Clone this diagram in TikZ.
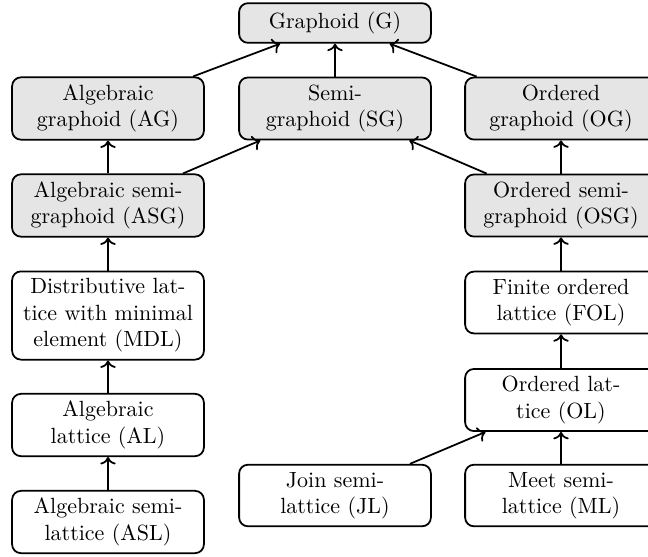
\documentclass[tikz,border=0pt]{standalone}
\usetikzlibrary{arrows.meta}
\begin{document}
\begin{tikzpicture}[x=0.4545pt,y=-0.4545pt,
  box/.style={draw, thick, rounded corners=4pt, text width=80.5pt, align=center, inner sep=3.33pt, minimum height=18pt},
  gbox/.style={box, fill=gray!20},
  wbox/.style={box, fill=white},
  link/.style={thick, ->}]
\useasboundingbox (0,0) rectangle (648,556);
\node[gbox] (G)   at (335,23)    {Graphoid (G)};
\node[gbox] (AG)  at (108,108.5) {Algebraic\\graphoid (AG)};
\node[gbox] (SG)  at (335,108.5) {Semi-\\graphoid (SG)};
\node[gbox] (OG)  at (561,108.5) {Ordered\\graphoid (OG)};
\node[gbox] (ASG) at (108,205.5) {Algebraic semi-\\graphoid (ASG)};
\node[gbox] (OSG) at (561,205.5) {Ordered semi-\\graphoid (OSG)};
\node[wbox] (MDL) at (108,315.5) {Distributive lat-\\tice with minimal\\element (MDL)};
\node[wbox] (FOL) at (561,302.5) {Finite ordered\\lattice (FOL)};
\node[wbox] (AL)  at (108,425)   {Algebraic\\lattice (AL)};
\node[wbox] (OL)  at (561,400)   {Ordered lat-\\tice (OL)};
\node[wbox] (ASL) at (108,522)   {Algebraic semi-\\lattice (ASL)};
\node[wbox] (JL)  at (335,495.5) {Join semi-\\lattice (JL)};
\node[wbox] (ML)  at (561,495.5) {Meet semi-\\lattice (ML)};
\draw[link] (AG) -- (G);
\draw[link] (SG) -- (G);
\draw[link] (OG) -- (G);
\draw[link] (ASG) -- (AG);
\draw[link] (ASG) -- (SG);
\draw[link] (OSG) -- (SG);
\draw[link] (OSG) -- (OG);
\draw[link] (MDL) -- (ASG);
\draw[link] (AL) -- (MDL);
\draw[link] (ASL) -- (AL);
\draw[link] (FOL) -- (OSG);
\draw[link] (OL) -- (FOL);
\draw[link] (JL) -- (OL);
\draw[link] (ML) -- (OL);
\end{tikzpicture}
\end{document}
